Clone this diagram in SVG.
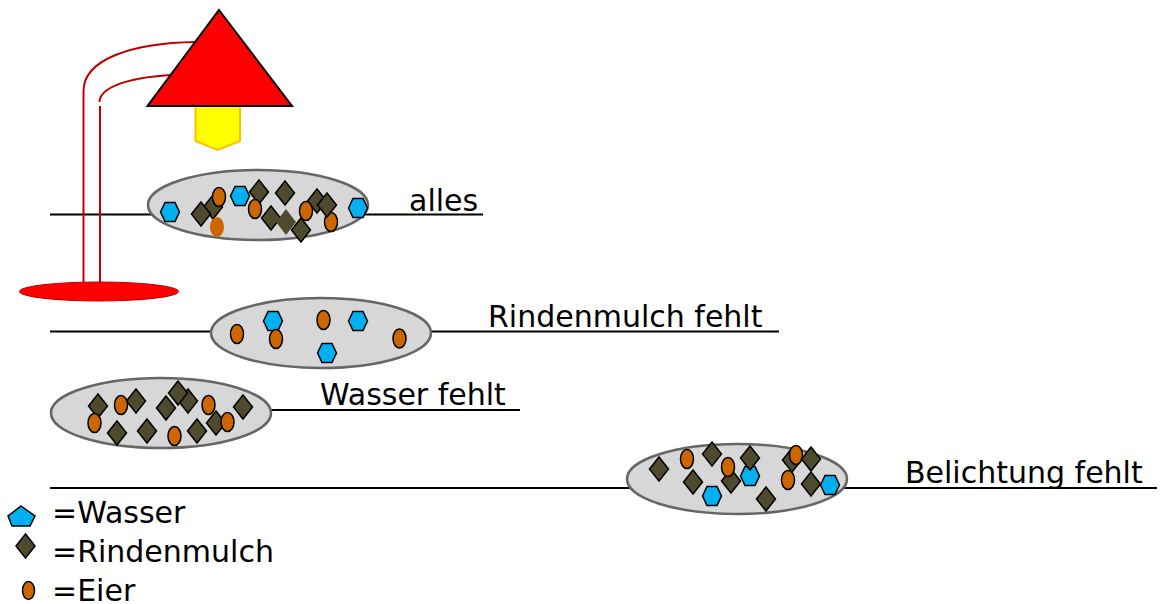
<svg xmlns="http://www.w3.org/2000/svg" width="1162" height="604" viewBox="0 0 1162 604">
<style>
text{font-family:"DejaVu Sans",Verdana,sans-serif;font-size:30px;fill:#000}
.rule{stroke:#000;stroke-width:2;fill:none}
.dish{fill:#d7d7d7;stroke:#666;stroke-width:2.5}
.cord{fill:none;stroke:#c00000;stroke-width:2}
.hex{fill:#00b0f0;stroke:#000;stroke-width:1.5}
.dia{fill:#4f4a2e;stroke:#000;stroke-width:1.5}
.egg{fill:#cc6600;stroke:#000;stroke-width:1.5}
</style>
<defs>
<polygon id="h" class="hex" points="-9.5,0 -5,-9.5 5,-9.5 9.5,0 5,9.5 -5,9.5"/>
<polygon id="d" class="dia" points="0,-12 9.5,0 0,12 -9.5,0"/>
<ellipse id="e" class="egg" cx="0" cy="0" rx="6.5" ry="9.5"/>
</defs>
<g id="connectors">
<line class="rule" x1="50" y1="214.500" x2="483" y2="214.500"/>
<line class="rule" x1="50" y1="331.500" x2="779" y2="331.500"/>
<line class="rule" x1="50" y1="410" x2="520" y2="410"/>
<line class="rule" x1="50" y1="488" x2="1157" y2="488"/>
</g>
<g id="lamp">
<ellipse cx="99" cy="291.500" rx="79.500" ry="9.500" fill="#ff0000" stroke="#c00000" stroke-width="1"/>
<path class="cord" d="M83.500 283V91C83.500 60 130 43 196 42"/>
<path class="cord" d="M100 283V106M99.500 102C100 88 125 78 170 75"/>
<polygon points="195.500,106 240,106 240,141 217.500,150 195.500,141" fill="#ffff00" stroke="#ffc000" stroke-width="2"/>
<polygon points="219,10 292,106 147.500,106" fill="#ff0000" stroke="#000" stroke-width="2"/>
</g>
<g id="dish-alles">
<ellipse class="dish" cx="258" cy="205" rx="110" ry="35"/>
<use href="#h" x="170" y="212"/><use href="#h" x="240" y="196"/><use href="#h" x="358" y="208"/>
<use href="#d" x="213" y="207"/><use href="#e" x="219" y="197"/><use href="#d" x="201" y="214"/>
<use href="#d" x="259" y="192"/><use href="#e" x="255" y="209"/><use href="#d" x="285" y="193"/>
<use href="#d" x="271" y="218"/>
<polygon points="286,209 296,222 286,235 276,222" fill="#4f4a2e"/>
<use href="#d" x="301" y="230"/><use href="#d" x="317" y="201"/><use href="#e" x="306" y="211"/>
<use href="#e" x="331" y="222"/><use href="#d" x="327" y="205"/>
<ellipse cx="217" cy="227" rx="7" ry="10" fill="#cc6600"/>
</g>
<g id="dish-rindenmulch">
<ellipse class="dish" cx="321" cy="333" rx="110" ry="35"/>
<use href="#h" x="273" y="321"/><use href="#h" x="358" y="321"/><use href="#h" x="327" y="353"/>
<use href="#e" x="237" y="334"/><use href="#e" x="276" y="339"/><use href="#e" x="323.500" y="320"/><use href="#e" x="399.500" y="338.500"/>
</g>
<g id="dish-wasser">
<ellipse class="dish" cx="161" cy="413" rx="110" ry="35"/>
<use href="#d" x="98" y="406"/><use href="#e" x="94.500" y="423"/><use href="#d" x="136" y="401"/><use href="#e" x="121" y="405"/>
<use href="#d" x="166" y="408"/><use href="#d" x="188" y="401"/><use href="#d" x="178" y="393"/><use href="#d" x="243" y="407"/>
<use href="#d" x="117" y="433"/><use href="#d" x="147" y="431"/><use href="#d" x="197" y="431"/><use href="#d" x="216" y="423"/>
<use href="#e" x="208.500" y="405"/><use href="#e" x="227.500" y="422"/><use href="#e" x="174.500" y="436"/>
</g>
<g id="dish-belichtung">
<ellipse class="dish" cx="737" cy="479" rx="110" ry="35"/>
<use href="#d" x="659" y="469"/><use href="#d" x="712" y="454"/><use href="#e" x="687" y="459"/><use href="#d" x="693" y="482"/>
<use href="#h" x="712" y="496"/><use href="#h" x="750" y="476"/><use href="#d" x="750" y="458"/><use href="#d" x="731" y="481"/>
<use href="#e" x="728" y="467"/><use href="#d" x="766" y="499"/><use href="#d" x="792" y="460"/><use href="#e" x="796" y="455"/>
<use href="#d" x="811" y="459"/><use href="#e" x="788" y="480"/><use href="#d" x="811" y="484"/><use href="#h" x="830" y="485"/>
</g>
<g id="labels">
<text x="409" y="211">alles</text>
<text x="488" y="327">Rindenmulch fehlt</text>
<text x="320" y="405">Wasser fehlt</text>
<text x="905" y="483">Belichtung fehlt</text>
</g>
<g id="legend">
<polygon points="21,506 35,516 30,526 12,526 8,516" fill="#00b0f0" stroke="#000" stroke-width="1.5"/>
<polygon points="25.500,534 35,546 25.500,558 16,546" class="dia"/>
<ellipse cx="28.500" cy="590.500" rx="6" ry="9" class="egg"/>
<text x="52" y="523">=Wasser</text>
<text x="52" y="562">=Rindenmulch</text>
<text x="52" y="601">=Eier</text>
</g>
</svg>
